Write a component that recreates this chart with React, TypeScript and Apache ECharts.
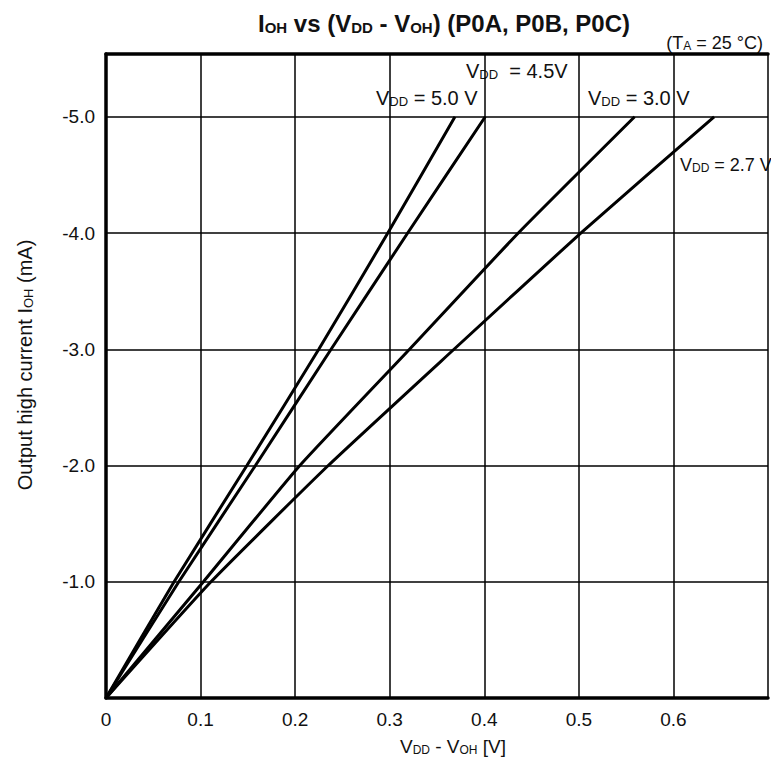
import React, { useEffect, useRef } from "react";
import * as echarts from "echarts";

// Data: [V_DD - V_OH (V), I_OH (mA)]
const vdd50: number[][] = [[0, 0], [0.072, -1], [0.149, -2], [0.225, -3], [0.298, -4], [0.369, -5]];
const vdd45: number[][] = [[0, 0], [0.077, -1], [0.158, -2], [0.238, -3], [0.319, -4], [0.401, -5]];
const vdd30: number[][] = [[0, 0], [0.103, -1], [0.205, -2], [0.321, -3], [0.436, -4], [0.559, -5]];
const vdd27: number[][] = [[0, 0], [0.111, -1], [0.235, -2], [0.368, -3], [0.502, -4], [0.643, -5]];

const seriesNames = ["VDD = 5.0 V", "VDD = 4.5 V", "VDD = 3.0 V", "VDD = 2.7 V"];
const seriesData = [vdd50, vdd45, vdd30, vdd27];

const xMin = 0;
const xMax = 0.7;
const xInterval = 0.1;
const yMin = -5.54;
const yMax = 0;

const FONT = "'Liberation Sans', Arial, Helvetica, sans-serif";

function sub(size: number, weight: string = "normal") {
  return { fontSize: size, fontFamily: FONT, fontWeight: weight, fill: "#111", verticalAlign: "bottom" };
}

export default function App() {
  const ref = useRef<HTMLDivElement>(null);

  useEffect(() => {
    if (!ref.current) return;
    const chart = echarts.init(ref.current, undefined, { renderer: "svg" });
    const vddRich = { n: sub(20), s: sub(13) };
    const option: any = {
      animation: false,
      backgroundColor: "#fff",
      grid: { left: 106, right: 0, top: 54, bottom: 61, containLabel: false },
      xAxis: [
        {
          type: "value",
          min: xMin,
          max: xMax,
          interval: xInterval,
          axisLine: { show: true, onZero: false, lineStyle: { color: "#000", width: 3.5 } },
          axisTick: { show: false },
          splitLine: { show: true, lineStyle: { color: "#000", width: 1.5 } },
          axisLabel: {
            margin: 12,
            fontSize: 19,
            fontFamily: FONT,
            color: "#111",
            formatter: (v: number) => (v === 0 ? "0" : v > 0.65 ? "" : v.toFixed(1)),
          },
        },
        {
          type: "value",
          position: "top",
          min: xMin,
          max: xMax,
          interval: xInterval,
          axisLine: { show: true, onZero: false, lineStyle: { color: "#000", width: 3.5 } },
          axisTick: { show: false },
          splitLine: { show: false },
          axisLabel: { show: false },
        },
      ],
      yAxis: {
        type: "value",
        min: yMin,
        max: yMax,
        inverse: true,
        splitNumber: 6,
        axisLine: { show: true, onZero: false, lineStyle: { color: "#000", width: 3.5 } },
        axisTick: { show: false },
        splitLine: { show: true, lineStyle: { color: "#000", width: 1.5 } },
        axisLabel: {
          margin: 11,
          fontSize: 19,
          fontFamily: FONT,
          color: "#111",
          formatter: (v: number) =>
            v === 0 || Math.abs(v - Math.round(v)) > 1e-6 ? "" : v.toFixed(1),
        },
      },
      series: seriesData.map((d, i) => ({
        name: seriesNames[i],
        type: "line",
        data: d,
        smooth: 0.15,
        symbol: "none",
        lineStyle: { color: "#000", width: 3 },
        z: 5,
      })),
      graphic: [
        {
          type: "text",
          x: 444,
          y: 23,
          style: {
            text: "{b|I}{bs|OH}{b| vs (V}{bs|DD}{b| - V}{bs|OH}{b|) (P0A, P0B, P0C)}",
            align: "center",
            verticalAlign: "middle",
            rich: { b: sub(24, "bold"), bs: sub(15, "bold") },
          },
        },
        {
          type: "text",
          x: 763,
          y: 43,
          style: {
            text: "{n|(T}{s|A}{n| = 25 °C)}",
            align: "right",
            verticalAlign: "middle",
            rich: { n: sub(18), s: sub(12) },
          },
        },
        {
          type: "text",
          x: 466,
          y: 71,
          style: { text: "{n|V}{s|DD}{n|  = 4.5V}", align: "left", verticalAlign: "middle", rich: vddRich },
        },
        {
          type: "text",
          x: 376,
          y: 98,
          style: { text: "{n|V}{s|DD}{n| = 5.0 V}", align: "left", verticalAlign: "middle", rich: vddRich },
        },
        {
          type: "text",
          x: 588,
          y: 98,
          style: { text: "{n|V}{s|DD}{n| = 3.0 V}", align: "left", verticalAlign: "middle", rich: vddRich },
        },
        {
          type: "text",
          x: 680,
          y: 165,
          style: { text: "{n|V}{s|DD}{n| = 2.7 V}", align: "left", verticalAlign: "middle", rich: { n: sub(18), s: sub(12) } },
        },
        {
          type: "text",
          x: 453,
          y: 746,
          style: {
            text: "{n|V}{s|DD}{n| - V}{s|OH}{n| [V]}",
            align: "center",
            verticalAlign: "middle",
            rich: { n: sub(19), s: sub(12) },
          },
        },
        {
          type: "text",
          x: 25,
          y: 365,
          rotation: Math.PI / 2,
          style: {
            text: "{n|Output high current I}{s|OH}{n| (mA)}",
            align: "center",
            verticalAlign: "middle",
            rich: { n: sub(20), s: sub(13) },
          },
        },
      ],
    };
    chart.setOption(option);
    return () => chart.dispose();
  }, []);

  return (
    <div
      ref={ref}
      style={{ position: "fixed", left: 0, top: 0, width: 771, height: 759, background: "#fff" }}
    />
  );
}
